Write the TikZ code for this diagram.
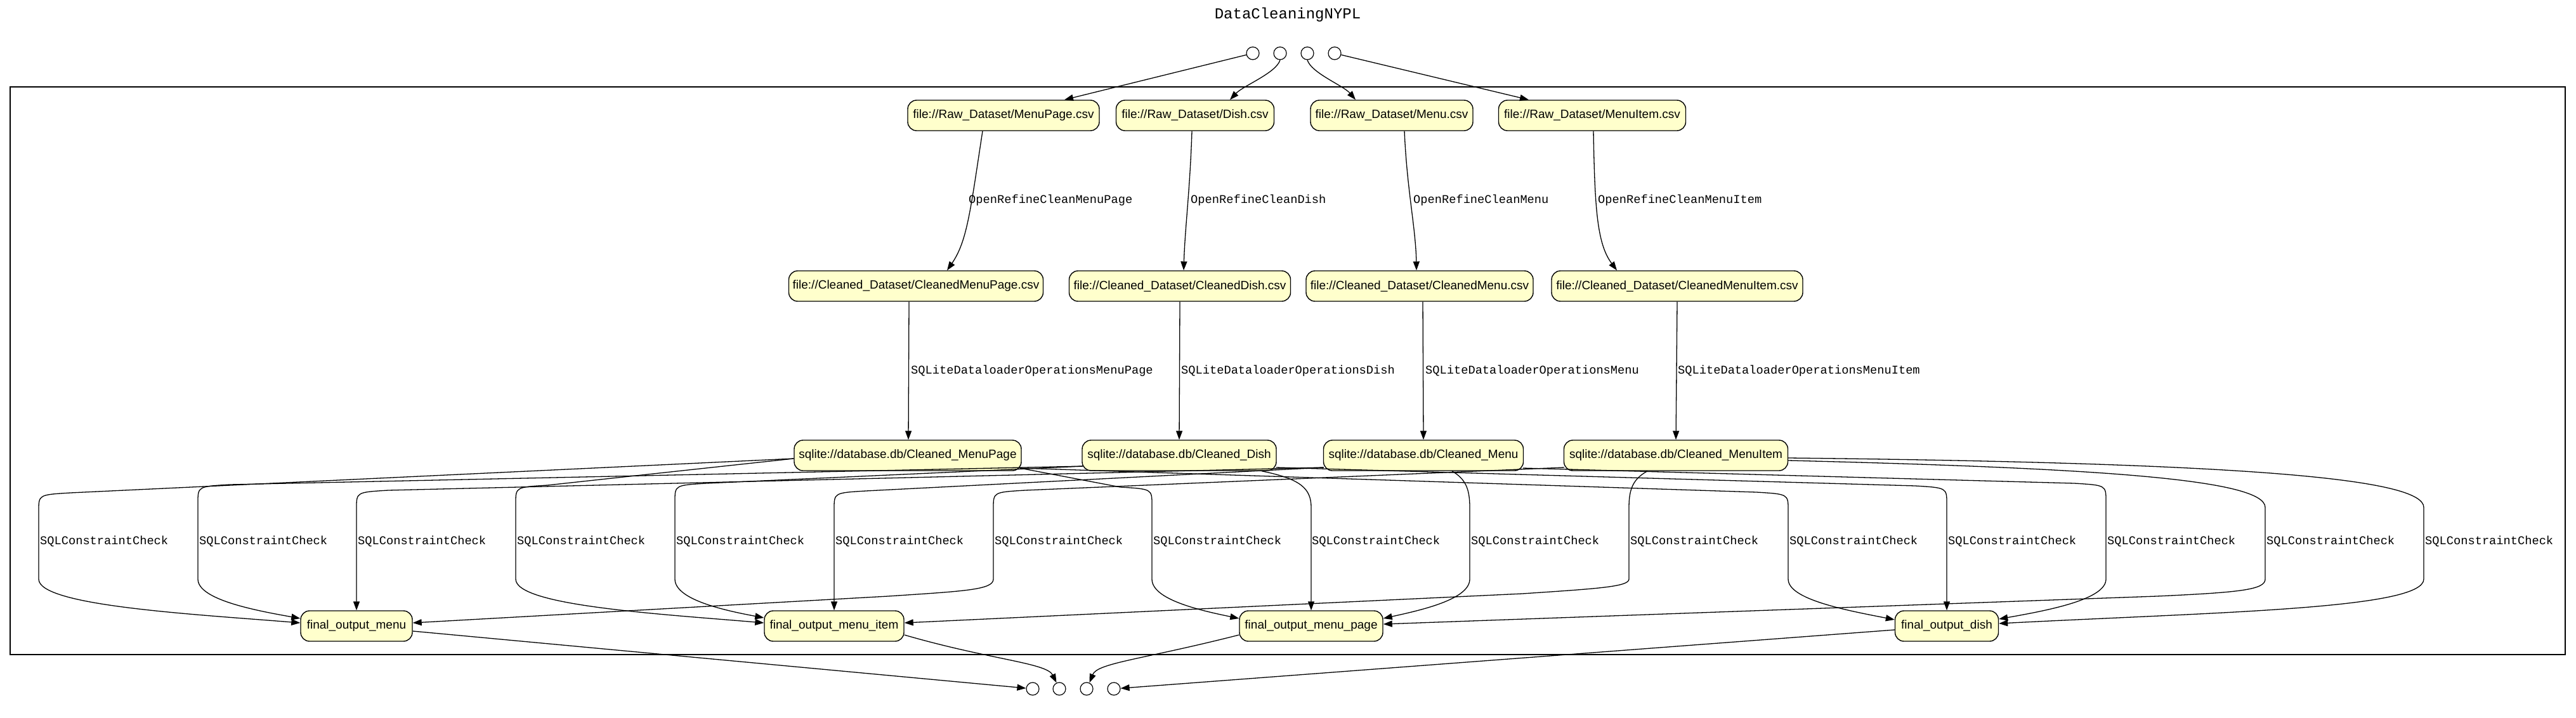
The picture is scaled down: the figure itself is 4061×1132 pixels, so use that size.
\documentclass[tikz,border=0pt]{standalone}
\usepackage{fontspec}
\setmainfont{Liberation Sans}
\newfontfamily\monof{Liberation Mono}
\usetikzlibrary{arrows.meta}
\definecolor{nodefill}{HTML}{FFFFCC}
\begin{document}
\begin{tikzpicture}[x=1pt,y=-1pt,
 gnode/.style={draw=black, line width=1.4pt, fill=nodefill, rounded corners=14pt, minimum height=48pt, inner sep=0pt, font=\fontsize{19}{22}\selectfont},
 port/.style={draw=black, line width=1.2pt, fill=white, circle, minimum size=20pt, inner sep=0pt},
 conn/.style={line width=1.3pt, -{Triangle[length=14pt,width=10pt]}},
 elab/.style={font=\monof\fontsize{18.7}{22}\selectfont, anchor=west, inner sep=0pt},
 clusterbox/.style={draw=black, line width=2.6pt, inner sep=0pt}]

\useasboundingbox (0,0) rectangle (4061,1132);
\fill[white] (0,0) rectangle (4061,1132);

\node[font=\monof\fontsize{24}{28}\selectfont] (title) at (2030,23) {DataCleaningNYPL};
\node[clusterbox, minimum width=4028pt, minimum height=895pt] (cluster) at (2030,584.5) {};

% input / output ports
\node[port] (i1) at (1975,84) {};
\node[port] (i2) at (2018,84) {};
\node[port] (i3) at (2061,84) {};
\node[port] (i4) at (2104,84) {};
\node[port] (o1) at (1628,1086) {};
\node[port] (o2) at (1670,1086) {};
\node[port] (o3) at (1713,1086) {};
\node[port] (o4) at (1756,1086) {};

% row 1
\node[gnode, minimum width=302pt] (rMP) at (1582,182) {file://Raw\_Dataset/MenuPage.csv};
\node[gnode, minimum width=249pt] (rD)  at (1884,182) {file://Raw\_Dataset/Dish.csv};
\node[gnode, minimum width=256pt] (rM)  at (2194,182) {file://Raw\_Dataset/Menu.csv};
\node[gnode, minimum width=295pt] (rMI) at (2510,182) {file://Raw\_Dataset/MenuItem.csv};
% row 2
\node[gnode, minimum width=401pt] (cMP) at (1444,451) {file://Cleaned\_Dataset/CleanedMenuPage.csv};
\node[gnode, minimum width=349pt] (cD)  at (1860,451) {file://Cleaned\_Dataset/CleanedDish.csv};
\node[gnode, minimum width=358pt] (cM)  at (2238,451) {file://Cleaned\_Dataset/CleanedMenu.csv};
\node[gnode, minimum width=396pt] (cMI) at (2644,451) {file://Cleaned\_Dataset/CleanedMenuItem.csv};
% row 3
\node[gnode, minimum width=358pt] (sMP) at (1431,718) {sqlite://database.db/Cleaned\_MenuPage};
\node[gnode, minimum width=306pt] (sD)  at (1859,718) {sqlite://database.db/Cleaned\_Dish};
\node[gnode, minimum width=315pt] (sM)  at (2244,718) {sqlite://database.db/Cleaned\_Menu};
\node[gnode, minimum width=353pt] (sMI) at (2642,718) {sqlite://database.db/Cleaned\_MenuItem};
% row 4
\node[gnode, minimum width=176pt] (fM)  at (562,987)  {final\_output\_menu};
\node[gnode, minimum width=220pt] (fMI) at (1315,987) {final\_output\_menu\_item};
\node[gnode, minimum width=226pt] (fMP) at (2067,987) {final\_output\_menu\_page};
\node[gnode, minimum width=163pt] (fD)  at (3069,987) {final\_output\_dish};

% inputs
\draw[conn] (i1) -- ([xshift=96pt]rMP.north);
\draw[conn] (i2.south) .. controls (2012,115) and (1960,135) .. ([xshift=55pt]rD.north);
\draw[conn] (i3.south) .. controls (2067,115) and (2118,135) .. ([xshift=-57pt]rM.north);
\draw[conn] (i4) -- ([xshift=-100pt]rMI.north);

% row1 -> row2
\draw[conn] ([xshift=-33pt]rMP.south) .. controls (1530,330) and (1525,380) .. ([xshift=49pt]cMP.north);
\draw[conn] ([xshift=-5pt]rD.south) .. controls (1876,300) and (1868,360) .. ([xshift=6pt]cD.north);
\draw[conn] ([xshift=20pt]rM.south) .. controls (2218,300) and (2232,360) .. ([xshift=-5pt]cM.north);
\draw[conn] ([xshift=2pt]rMI.south) .. controls (2514,330) and (2518,385) .. ([xshift=-95pt]cMI.north);
\node[elab] (l1) at (1527,316) {OpenRefineCleanMenuPage};
\node[elab] (l2) at (1877,316) {OpenRefineCleanDish};
\node[elab] (l3) at (2228,316) {OpenRefineCleanMenu};
\node[elab] (l4) at (2519,316) {OpenRefineCleanMenuItem};

% row2 -> row3
\draw[conn] ([xshift=-11pt]cMP.south) -- ([xshift=1pt]sMP.north);
\draw[conn] (cD.south) -- (sD.north);
\draw[conn] ([xshift=5pt]cM.south) -- (sM.north);
\draw[conn] (cMI.south) -- (sMI.north);
\node[elab] (m1) at (1436,585) {SQLiteDataloaderOperationsMenuPage};
\node[elab] (m2) at (1862,585) {SQLiteDataloaderOperationsDish};
\node[elab] (m3) at (2247,585) {SQLiteDataloaderOperationsMenu};
\node[elab] (m4) at (2645,585) {SQLiteDataloaderOperationsMenuItem};

% row3 -> row4 (SQLConstraintCheck)
% k0
\draw[conn] ([yshift=-5pt]sMP.west) -- (111,777) .. controls (61,780) .. (61,805) -- (61,913) .. controls (61,955) and (300,968) .. ([yshift=5pt]fM.west);
% k1
\draw[conn] ([shift={(2pt,-17pt)}]sD.west) -- (362,764) .. controls (312,767) .. (312,792) -- (312,913) .. controls (312,945) and (400,962) .. ([yshift=12pt]fM.west);
% k2
\draw[conn] ([shift={(1pt,-19pt)}]sM.west) -- (612,773) .. controls (562,776) .. (562,801) -- (fM.north);
% k3
\draw[conn] ([yshift=-5pt]sMP.west) -- (863,765) .. controls (813,768) .. (813,793) -- (813,913) .. controls (813,955) and (1040,968) .. ([yshift=5pt]fMI.west);
% k4
\draw[conn] ([shift={(2pt,-17pt)}]sD.west) -- (1114,762) .. controls (1064,765) .. (1064,790) -- (1064,913) .. controls (1064,945) and (1140,962) .. ([yshift=13pt]fMI.west);
% k5
\draw[conn] ([shift={(1pt,-19pt)}]sM.west) -- (1365,774) .. controls (1315,777) .. (1315,802) -- (fMI.north);
% k6
\draw[conn] ([shift={(1pt,-19pt)}]sMI.west) -- (1616,773) .. controls (1566,776) .. (1566,801) -- (1566,913) .. controls (1566,930) and (1520,932) .. (1400,940) -- ([yshift=5pt]fM.east);
% k7
\draw[conn] ([shift={(-3pt,-20pt)}]sMP.east) -- (1766,768) .. controls (1816,771) .. (1816,796) -- (1816,913) .. controls (1816,945) and (1890,962) .. ([yshift=12pt]fMP.west);
% k8
\draw[conn] ([xshift=130pt]sD.south) .. controls (2050,755) and (2067,770) .. (2067,800) -- (fMP.north);
% k9
\draw[conn] ([xshift=45pt]sM.south) .. controls (2310,755) and (2317,770) .. (2317,800) -- (2317,913) .. controls (2317,945) and (2240,962) .. ([yshift=12pt]fMP.east);
% k10
\draw[conn] ([xshift=-45pt]sMI.south) .. controls (2575,755) and (2568,770) .. (2568,800) -- (2568,913) .. controls (2568,925) and (2520,928) .. (2400,936) -- ([yshift=5pt]fMI.east);
% k11
\draw[conn] ([shift={(-3pt,-20pt)}]sMP.east) -- (2769,776) .. controls (2819,779) .. (2819,804) -- (2819,913) .. controls (2819,945) and (2910,962) .. ([yshift=10pt]fD.west);
% k12
\draw[conn] ([shift={(-1pt,-19pt)}]sD.east) -- (3019,766) .. controls (3069,769) .. (3069,794) -- (fD.north);
% k13
\draw[conn] ([shift={(-1pt,-20pt)}]sM.east) -- (3270,762) .. controls (3320,765) .. (3320,790) -- (3320,913) .. controls (3320,945) and (3230,962) .. ([yshift=11pt]fD.east);
% k14
\draw[conn] ([yshift=-8pt]sMI.east) .. controls (3300,738) and (3571,755) .. (3571,800) -- (3571,913) .. controls (3571,930) and (3530,934) .. (3400,940) -- ([yshift=3pt]fMP.east);
% k15
\draw[conn] ([yshift=-4pt]sMI.east) .. controls (3550,730) and (3821,755) .. (3821,800) -- (3821,913) .. controls (3821,960) and (3500,965) .. ([yshift=4pt]fD.east);

\foreach \vx [count=\i] in {61,312,562,813,1064,1315,1566,1816,2066,2317,2568,2819,3069,3320,3571,3821}
  \node[elab] (q\i) at (\vx+2,853) {SQLConstraintCheck};

% outputs
\draw[conn] ([yshift=-8pt]fM.east) -- (o1);
\draw[conn] ([yshift=-14pt]fMI.east) .. controls (1560,1040) and (1650,1045) .. (o2.115);
\draw[conn] ([yshift=-14pt]fMP.west) .. controls (1800,1040) and (1730,1045) .. (o3.65);
\draw[conn] ([yshift=-6pt]fD.west) -- (o4);
\end{tikzpicture}
\end{document}
